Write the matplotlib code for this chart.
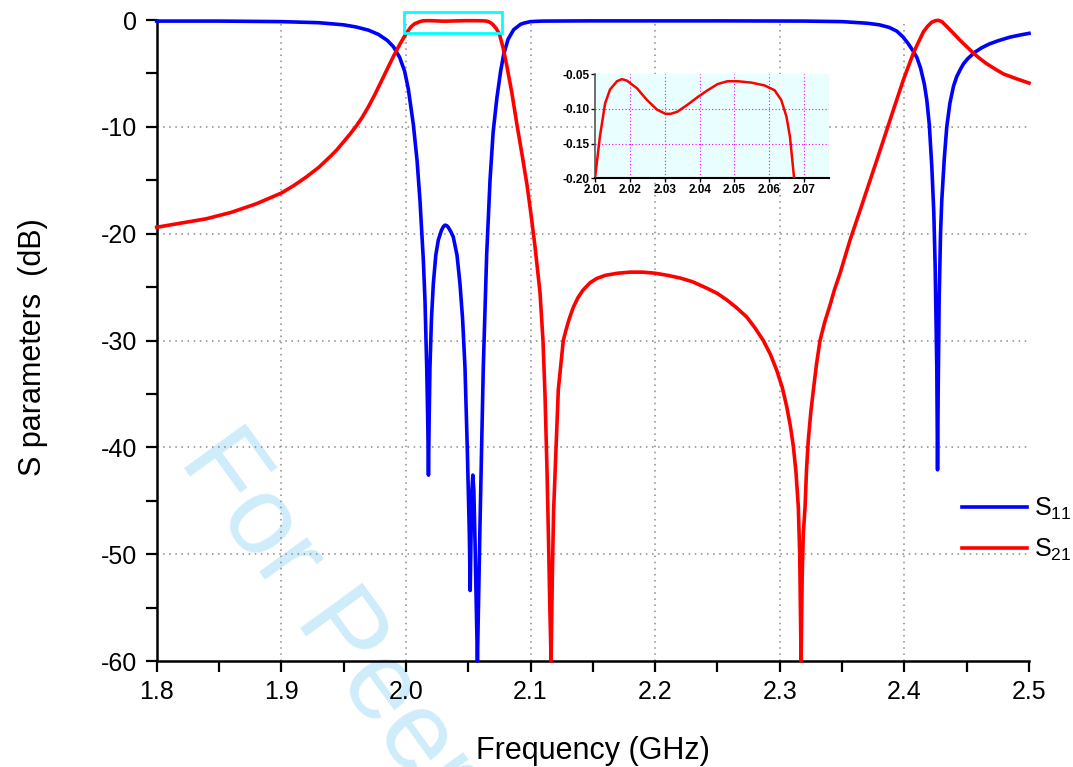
import matplotlib.pyplot as plt
from matplotlib.patches import Rectangle
from matplotlib.ticker import MultipleLocator

# Simulated S-parameters of the dual-band bandpass filter (dB vs GHz)
s11_freq = [1.800, 1.850, 1.900, 1.930, 1.950, 1.960, 1.970, 1.978, 1.985, 1.990,
            1.995, 1.999, 2.002, 2.006, 2.009, 2.0113, 2.014, 2.0153, 2.0167, 2.0176,
            2.0181, 2.0187, 2.0193, 2.0205, 2.022, 2.024, 2.026, 2.0285, 2.0300, 2.0314,
            2.0328, 2.034, 2.036, 2.038, 2.041, 2.0434, 2.0455, 2.0474, 2.0493, 2.0509,
            2.0516, 2.0523, 2.053, 2.0537, 2.0545, 2.0555, 2.0565, 2.0574, 2.0595, 2.0621,
            2.0648, 2.0675, 2.070, 2.073, 2.076, 2.0785, 2.082, 2.0865, 2.092, 2.095,
            2.100, 2.105, 2.110, 2.150, 2.250, 2.320, 2.350, 2.370, 2.380, 2.388,
            2.394, 2.399, 2.403, 2.407, 2.410, 2.413, 2.416, 2.418, 2.420, 2.422,
            2.4236, 2.4247, 2.426, 2.4266, 2.4271, 2.4279, 2.429, 2.430, 2.432, 2.434,
            2.4365, 2.4394, 2.4420, 2.4450, 2.4474, 2.4510, 2.4567, 2.4620, 2.4680, 2.4750,
            2.4848, 2.4930, 2.5000]
s11_db = [-0.10, -0.10, -0.15, -0.25, -0.45, -0.65, -0.95, -1.35, -1.9, -2.5,
          -3.5, -4.8, -6.5, -9.8, -13.2, -16.9, -22.5, -26.2, -32.5, -38.0,
          -42.6, -37.0, -32.5, -28.0, -24.7, -22.0, -20.6, -19.7, -19.35, -19.2,
          -19.25, -19.4, -19.8, -20.3, -22.0, -24.7, -28.0, -32.5, -40.3, -48.1,
          -53.4, -48.0, -44.0, -42.6, -44.0, -49.0, -55.0, -60.0, -47.0, -32.5,
          -22.0, -15.0, -10.5, -7.3, -4.8, -3.2, -1.8, -0.9, -0.4, -0.28,
          -0.15, -0.12, -0.10, -0.08, -0.08, -0.10, -0.15, -0.30, -0.45, -0.70,
          -1.05, -1.6, -2.2, -2.9, -3.5, -4.5, -6.0, -7.5, -9.8, -13.7,
          -18.0, -23.1, -32.5, -42.1, -35.0, -26.2, -20.0, -16.9, -13.0, -10.0,
          -7.8, -6.2, -5.3, -4.6, -4.1, -3.6, -3.0, -2.6, -2.25, -1.95,
          -1.6, -1.4, -1.25]

s21_freq = [1.800, 1.820, 1.840, 1.860, 1.880, 1.900, 1.905, 1.910, 1.915, 1.920,
            1.925, 1.930, 1.935, 1.940, 1.945, 1.950, 1.955, 1.960, 1.965, 1.970,
            1.975, 1.980, 1.985, 1.990, 1.995, 2.000, 2.004, 2.007, 2.0100, 2.0114,
            2.0129, 2.0143, 2.0163, 2.0177, 2.0191, 2.0220, 2.0249, 2.0278, 2.0302, 2.0317,
            2.0336, 2.0365, 2.0394, 2.0423, 2.0452, 2.0480, 2.0509, 2.0548, 2.0586, 2.0615,
            2.0634, 2.0649, 2.0659, 2.0671, 2.0685, 2.070, 2.0725, 2.075, 2.078, 2.081,
            2.085, 2.0894, 2.0935, 2.0974, 2.1005, 2.1036, 2.1076, 2.1100, 2.1116, 2.1132,
            2.1145, 2.1155, 2.1165, 2.1175, 2.1185, 2.1197, 2.1223, 2.1263, 2.1285, 2.1310,
            2.1343, 2.1380, 2.1420, 2.1477, 2.1530, 2.1600, 2.1700, 2.1800, 2.1900, 2.2000,
            2.2100, 2.2200, 2.2300, 2.2414, 2.2500, 2.2575, 2.2650, 2.2735, 2.2800, 2.2868,
            2.2925, 2.2976, 2.3020, 2.3056, 2.3085, 2.3109, 2.3130, 2.3149, 2.3160, 2.3171,
            2.3180, 2.3189, 2.3203, 2.3215, 2.3229, 2.3250, 2.3270, 2.3295, 2.3323, 2.3360,
            2.3403, 2.3440, 2.3484, 2.3564, 2.3645, 2.3725, 2.3805, 2.3912, 2.3992, 2.4072,
            2.4120, 2.4153, 2.4185, 2.4220, 2.4250, 2.4273, 2.4300, 2.4340, 2.4390, 2.4447,
            2.4500, 2.4554, 2.4610, 2.4661, 2.4730, 2.4795, 2.4900, 2.5000]
s21_db = [-19.4, -19.0, -18.6, -18.0, -17.2, -16.2, -15.85, -15.5, -15.1, -14.7,
          -14.25, -13.8, -13.25, -12.7, -12.1, -11.4, -10.7, -9.95, -9.1, -8.1,
          -7.0, -5.8, -4.6, -3.4, -2.3, -1.3, -0.65, -0.35, -0.200, -0.140,
          -0.092, -0.072, -0.060, -0.057, -0.059, -0.070, -0.087, -0.101, -0.107, -0.107,
          -0.104, -0.094, -0.083, -0.073, -0.064, -0.060, -0.060, -0.062, -0.066, -0.073,
          -0.087, -0.111, -0.140, -0.200, -0.30, -0.45, -0.8, -1.3, -2.6, -4.3,
          -6.8, -10.0, -12.8, -15.6, -18.3, -21.2, -25.5, -30.0, -35.0, -42.0,
          -49.0, -55.0, -60.0, -52.0, -46.0, -42.4, -34.6, -30.0, -29.0, -28.0,
          -26.9, -26.0, -25.3, -24.6, -24.2, -23.9, -23.7, -23.6, -23.6, -23.7,
          -23.9, -24.15, -24.5, -25.1, -25.6, -26.2, -26.9, -27.8, -28.8, -30.0,
          -31.3, -32.8, -34.4, -36.2, -38.0, -39.9, -42.3, -45.6, -50.0, -60.0,
          -52.0, -48.0, -45.6, -42.0, -39.3, -36.6, -34.6, -32.2, -30.0, -28.3,
          -26.7, -25.2, -23.7, -20.6, -17.8, -15.0, -12.2, -8.4, -5.6, -3.1,
          -1.9, -1.1, -0.6, -0.2, -0.06, -0.03, -0.15, -0.6, -1.2, -1.9,
          -2.5, -3.1, -3.65, -4.1, -4.6, -5.05, -5.5, -5.9]

x_ticks = [1.8, 1.9, 2.0, 2.1, 2.2, 2.3, 2.4, 2.5]
y_ticks = [0, -10, -20, -30, -40, -50, -60]
inset_x_ticks = [2.01, 2.02, 2.03, 2.04, 2.05, 2.06, 2.07]
inset_y_ticks = [-0.05, -0.10, -0.15, -0.20]

plt.rcParams.update({
    "font.family": "Liberation Sans",
    "axes.unicode_minus": False,
    "mathtext.fontset": "custom",
    "mathtext.rm": "Liberation Sans",
    "mathtext.it": "Liberation Sans:italic",
    "mathtext.bf": "Liberation Sans:bold",
})

BLUE = "#0000FF"
RED = "#FF0000"
GRID = "#8a8a8a"

fig = plt.figure(figsize=(10.73, 7.67), dpi=100)

# watermark sits behind everything
fig.text(178 / 1073, 1 - 460 / 767, "For Peer Review", rotation=-54,
         rotation_mode="anchor", ha="left", va="baseline", fontsize=80,
         color="#CFECFA", zorder=-1)

ax = fig.add_axes([0.1460, 0.1382, 0.8130, 0.8357])
ax.set_facecolor("none")
ax.set_xlim(1.8, 2.5)
ax.set_ylim(-60, 0)

for xv in x_ticks[1:-1]:
    ax.axvline(xv, color=GRID, lw=1.1, ls=(0, (1, 3)), zorder=1)
for yv in y_ticks[1:-1]:
    ax.axhline(yv, color=GRID, lw=1.1, ls=(0, (1, 3)), zorder=1)

ax.plot(s11_freq, s11_db, color=BLUE, lw=2.6, label="S$_{11}$",
        clip_on=False, zorder=3, solid_joinstyle="round")
ax.plot(s21_freq, s21_db, color=RED, lw=2.6, label="S$_{21}$",
        clip_on=False, zorder=4, solid_joinstyle="round")

ax.set_xticks(x_ticks)
ax.set_xticklabels([f"{v:.1f}" for v in x_ticks])
ax.set_yticks(y_ticks)
ax.set_yticklabels([f"{v:d}" for v in y_ticks])
ax.xaxis.set_minor_locator(MultipleLocator(0.05))
ax.yaxis.set_minor_locator(MultipleLocator(5))
ax.tick_params(which="both", direction="out", length=8, width=1.6,
               labelsize=18, pad=6)

for side in ("top", "right"):
    ax.spines[side].set_visible(False)
for side in ("left", "bottom"):
    ax.spines[side].set_linewidth(1.8)

fig.text(593 / 1073, 1 - 759 / 767, "Frequency (GHz)", ha="center",
         va="baseline", fontsize=22)
fig.text(33 / 1073, 1 - 347 / 767, "S parameters  (dB)", ha="center",
         va="center", rotation=90, fontsize=22)

# marker for the zoomed passband
ax.add_patch(Rectangle((1.9985, -1.25), 2.0769 - 1.9985, 1.97, fill=False,
                       edgecolor="#00FFFF", lw=2, clip_on=False, zorder=5))

ax.legend(loc="upper left", bbox_to_anchor=(962 / 1073, 1 - 496 / 767),
          bbox_transform=fig.transFigure, frameon=False, fontsize=18,
          handlelength=2.6, handletextpad=0.3, borderpad=0, borderaxespad=0,
          labelspacing=0.6)

# inset: passband ripple of S21
axin = fig.add_axes([595 / 1073, 1 - 178.3 / 767, 234 / 1073, 104 / 767])
axin.set_facecolor("#E9FEFE")
axin.set_xlim(2.01, 2.0771)
axin.set_ylim(-0.20, -0.05)
for xv in inset_x_ticks[1:]:
    axin.axvline(xv, color="#FF00FF", lw=0.8, ls=(0, (1, 2)), zorder=1)
for yv in inset_y_ticks[1:-1]:
    axin.axhline(yv, color="#FF00FF", lw=0.8, ls=(0, (1, 2)), zorder=1)
axin.plot(s21_freq, s21_db, color=RED, lw=1.8, zorder=3,
          solid_joinstyle="round")
axin.set_xticks(inset_x_ticks)
axin.set_xticklabels([f"{v:.2f}" for v in inset_x_ticks], fontweight="bold")
axin.set_yticks(inset_y_ticks)
axin.set_yticklabels([f"{v:.2f}" for v in inset_y_ticks], fontweight="bold")
axin.tick_params(direction="out", length=3, width=1, labelsize=8.5, pad=1)
for side in ("top", "right"):
    axin.spines[side].set_visible(False)
axin.spines["left"].set_color("#555555")
axin.spines["left"].set_linewidth(1.2)
axin.spines["bottom"].set_linewidth(1.5)

fig.savefig("out.png", dpi=100)
